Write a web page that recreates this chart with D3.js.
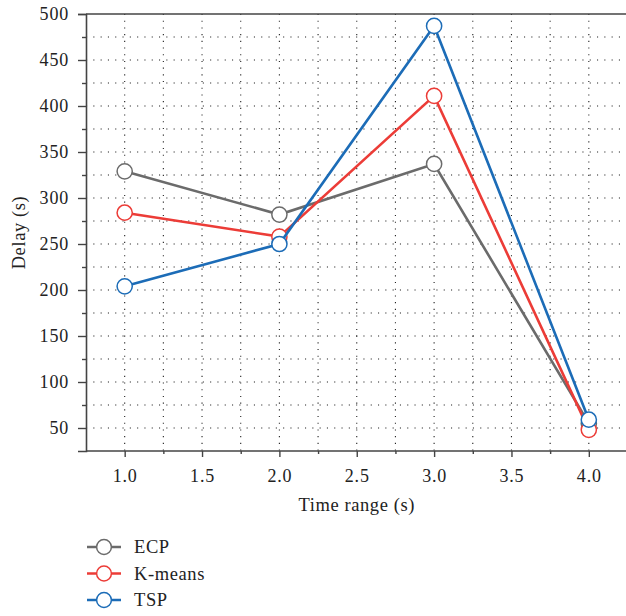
<!DOCTYPE html>
<html>
<head>
<meta charset="utf-8">
<script src="https://cdn.jsdelivr.net/npm/d3@7"></script>
<style>
  body { margin: 0; background: #fff; }
</style>
</head>
<body>
<script>
// data
const timeRange = [1.0, 2.0, 3.0, 4.0];
const ecp = [329, 282, 337, 55];
const kmeans = [284, 258, 411, 48];
const tsp = [204, 250, 487, 59];
const seriesNames = ["ECP", "K-means", "TSP"];
const xTicks = [1.0, 1.5, 2.0, 2.5, 3.0, 3.5, 4.0];
const yTicks = [50, 100, 150, 200, 250, 300, 350, 400, 450, 500];

const series = [
  { name: seriesNames[0], values: ecp, color: "#6b6b6b" },
  { name: seriesNames[1], values: kmeans, color: "#ec3c37" },
  { name: seriesNames[2], values: tsp, color: "#1c6cb7" }
];

const font = "Liberation Serif";
const width = 626, height = 616;
const svg = d3.select("body").append("svg")
  .attr("width", width)
  .attr("height", height);

const x = d3.scaleLinear().domain([0.75, 4.25]).range([86, 627.5]);
const y = d3.scaleLinear().domain([25, 500]).range([451, 14]);

// 格子（点線）
const gx = d3.range(1.0, 4.25, 0.25);
const gy = d3.range(50, 500, 25);
svg.append("g").selectAll("line").data(gx).join("line")
  .attr("x1", d => x(d)).attr("x2", d => x(d))
  .attr("y1", y(500)).attr("y2", y(25))
  .attr("stroke", "#222").attr("stroke-width", 1.1)
  .attr("stroke-dasharray", "1.1,5.6");
svg.append("g").selectAll("line").data(gy).join("line")
  .attr("x1", x(0.75)).attr("x2", x(4.25))
  .attr("y1", d => y(d)).attr("y2", d => y(d))
  .attr("stroke", "#222").attr("stroke-width", 1.1)
  .attr("stroke-dasharray", "1.1,6.2");

// axes
const axisColor = "#444";
const yAxis = svg.append("g").attr("transform", `translate(${x(0.75)},0)`)
  .call(d3.axisLeft(y).tickValues(yTicks).tickSize(8).tickPadding(9).tickFormat(d3.format("d")));
const yMinor = svg.append("g").attr("transform", `translate(${x(0.75)},0)`)
  .call(d3.axisLeft(y).tickValues(d3.range(75, 500, 50)).tickSize(4).tickFormat(""));
const xAxis = svg.append("g").attr("transform", `translate(0,${y(25)})`)
  .call(d3.axisBottom(x).tickValues(xTicks).tickSize(6).tickPadding(12).tickFormat(d3.format(".1f")));
const xMinor = svg.append("g").attr("transform", `translate(0,${y(25)})`)
  .call(d3.axisBottom(x).tickValues(d3.range(1.25, 4.25, 0.5)).tickSize(3).tickFormat(""));

[yAxis, yMinor, xAxis, xMinor].forEach(g => {
  g.attr("font-family", font).attr("font-size", 18);
  g.select(".domain").attr("stroke", axisColor).attr("stroke-width", 1.6);
  g.selectAll(".tick line").attr("stroke", axisColor).attr("stroke-width", 1.4);
  g.selectAll(".tick text").attr("fill", "#222")
    .attr("font-family", font).attr("font-size", 18).attr("letter-spacing", 0.8);
});
xAxis.select(".domain").attr("d", `M${x(0.75)},0H${x(4.25)}`);
xMinor.select(".domain").remove();
yMinor.select(".domain").remove();

// top border
svg.append("line")
  .attr("x1", x(0.75)).attr("x2", x(4.25))
  .attr("y1", y(500)).attr("y2", y(500))
  .attr("stroke", axisColor).attr("stroke-width", 1.6);

// axis titles
svg.append("text")
  .attr("x", (x(0.75) + x(4.25)) / 2).attr("y", 511)
  .attr("text-anchor", "middle").attr("fill", "#222")
  .attr("font-family", font).attr("font-size", 18.5).attr("letter-spacing", 0.6)
  .text("Time range (s)");
svg.append("text")
  .attr("transform", `translate(25,${(y(25) + y(500)) / 2}) rotate(-90)`)
  .attr("text-anchor", "middle").attr("fill", "#222")
  .attr("font-family", font).attr("font-size", 18.5).attr("letter-spacing", 0.6)
  .text("Delay (s)");

// series
const line = d3.line().x((d, i) => x(timeRange[i])).y(d => y(d));
series.forEach(s => {
  const g = svg.append("g");
  g.append("path").datum(s.values)
    .attr("d", line)
    .attr("fill", "none").attr("stroke", s.color).attr("stroke-width", 2.6);
  g.selectAll("circle").data(s.values).join("circle")
    .attr("cx", (d, i) => x(timeRange[i])).attr("cy", d => y(d))
    .attr("r", 7.6)
    .attr("fill", "#fff").attr("stroke", s.color).attr("stroke-width", 1.5);
});

// legend
const legend = svg.append("g");
series.forEach((s, i) => {
  const ly = 547 + i * 26.5;
  legend.append("line")
    .attr("x1", 87).attr("x2", 121).attr("y1", ly).attr("y2", ly)
    .attr("stroke", s.color).attr("stroke-width", 2.6);
  legend.append("circle")
    .attr("cx", 104).attr("cy", ly).attr("r", 7.4)
    .attr("fill", "#fff").attr("stroke", s.color).attr("stroke-width", 1.5);
  legend.append("text")
    .attr("x", 134).attr("y", ly + 6)
    .attr("fill", "#222").attr("font-family", font).attr("font-size", 18.5)
    .attr("letter-spacing", 0.6)
    .text(s.name);
});
</script>
</body>
</html>
